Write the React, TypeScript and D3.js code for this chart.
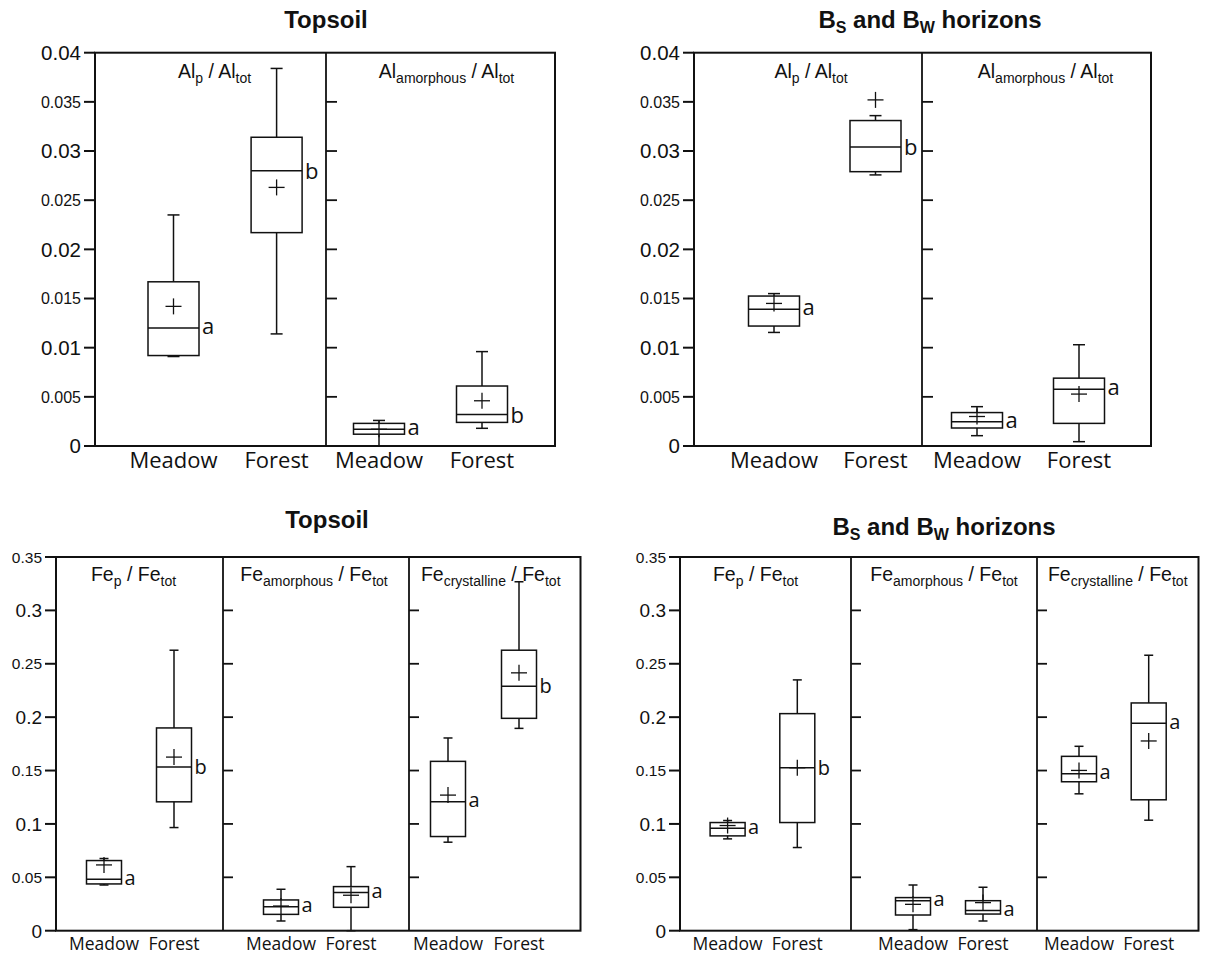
import React from "react";
import * as d3 from "d3";

// ---------- DATA ----------
const categories = ["Meadow", "Forest"];

// each stat: [whiskerLow, q1, median, q3, whiskerHigh, mean]
const alTopsoilP = [
  [0.0091, 0.0092, 0.012, 0.0167, 0.0235, 0.0142],
  [0.0114, 0.0217, 0.028, 0.0314, 0.0384, 0.0263],
];
const alTopsoilAm = [
  [0.0, 0.0012, 0.0017, 0.0023, 0.0026, 0.0017],
  [0.0018, 0.0024, 0.0032, 0.0061, 0.0096, 0.0046],
];
const alTopsoilLetters = [["a", "b"], ["a", "b"]];

const alHorizonP = [
  [0.01155, 0.0122, 0.0139, 0.01525, 0.0155, 0.0145],
  [0.02757, 0.0279, 0.0304, 0.0331, 0.0336, 0.0352],
];
const alHorizonAm = [
  [0.00105, 0.00183, 0.00247, 0.0034, 0.004, 0.003],
  [0.00044, 0.0023, 0.00576, 0.0069, 0.0103, 0.00528],
];
const alHorizonLetters = [["a", "b"], ["a", "a"]];

const feTopsoilP = [
  [0.0428, 0.0438, 0.0482, 0.0657, 0.0676, 0.0616],
  [0.0966, 0.1207, 0.1533, 0.1899, 0.2627, 0.1626],
];
const feTopsoilAm = [
  [0.0091, 0.0153, 0.0225, 0.0288, 0.0388, 0.0231],
  [0.0, 0.0219, 0.0357, 0.0413, 0.06, 0.0332],
];
const feTopsoilCr = [
  [0.0829, 0.0882, 0.1207, 0.1586, 0.1805, 0.127],
  [0.1895, 0.1989, 0.229, 0.2627, 0.3268, 0.2415],
];
const feTopsoilLetters = [["a", "b"], ["a", "a"], ["a", "b"]];

const feHorizonP = [
  [0.086, 0.0888, 0.096, 0.1013, 0.1032, 0.0985],
  [0.0779, 0.1013, 0.1526, 0.2033, 0.2349, 0.1526],
];
const feHorizonAm = [
  [0.001, 0.0147, 0.0281, 0.031, 0.0428, 0.0247],
  [0.0091, 0.0156, 0.019, 0.0281, 0.0407, 0.0263],
];
const feHorizonCr = [
  [0.1282, 0.1395, 0.147, 0.1633, 0.1727, 0.1501],
  [0.1035, 0.1226, 0.1942, 0.2133, 0.258, 0.1777],
];
const feHorizonLetters = [["a", "b"], ["a", "a"], ["a", "a"]];

const alTicks = [0, 0.005, 0.01, 0.015, 0.02, 0.025, 0.03, 0.035, 0.04];
const alTickLabels = ["0", "0.005", "0.01", "0.015", "0.02", "0.025", "0.03", "0.035", "0.04"];
const feTicks = [0, 0.05, 0.1, 0.15, 0.2, 0.25, 0.3, 0.35];
const feTickLabels = ["0", "0.05", "0.1", "0.15", "0.2", "0.25", "0.3", "0.35"];

const alPanelLabels = [
  { el: "Al", sub: "p" },
  { el: "Al", sub: "amorphous" },
];
const fePanelLabels = [
  { el: "Fe", sub: "p" },
  { el: "Fe", sub: "amorphous" },
  { el: "Fe", sub: "crystalline" },
];

// ---------- LAYOUT ----------
const top = {
  y0: 446, y1: 52.7, tickLen: 11, innerTick: 11, boxW: 51, cap: 12,
  catFont: 22, catY: 468, majorFont: 20.5, minorFont: 16, letterFont: 22,
  labelFont: 19.5, subFont: 14, labelY: 78, titleY: 28,
};
const bottom = {
  y0: 930.7, y1: 557, tickLen: 11, innerTick: 10, boxW: 35, cap: 9,
  catFont: 17.5, catY: 950, majorFont: 19, minorFont: 15.5, letterFont: 20,
  labelFont: 19.5, subFont: 14, labelY: 581, titleY: 528,
};

const charts = [
  {
    ...top, title: "topsoil", titleX: 326, xs: [95, 326, 555],
    centers: [[173.5, 276.6], [379, 482]], yMax: 0.04, ticks: alTicks, tickLabels: alTickLabels,
    data: [alTopsoilP, alTopsoilAm], letters: alTopsoilLetters, labels: alPanelLabels, labelShift: [4, 6],
  },
  {
    ...top, title: "horizon", titleX: 930, xs: [694, 922, 1151],
    centers: [[774, 875.5], [977, 1079]], yMax: 0.04, ticks: alTicks, tickLabels: alTickLabels,
    data: [alHorizonP, alHorizonAm], letters: alHorizonLetters, labels: alPanelLabels, labelShift: [3, 9],
  },
  {
    ...bottom, title: "topsoil", titleX: 327, xs: [56, 223, 409, 580.5],
    centers: [[104, 174], [281, 351], [448, 519]], yMax: 0.35, ticks: feTicks, tickLabels: feTickLabels,
    data: [feTopsoilP, feTopsoilAm, feTopsoilCr], letters: feTopsoilLetters, labels: fePanelLabels, labelShift: [-6, -2, -4],
  },
  {
    ...bottom, title: "horizon", titleX: 944, titleY: 535, xs: [680, 851, 1037, 1198.5],
    centers: [[727.6, 797.3], [913, 983], [1079, 1148.7]], yMax: 0.35, ticks: feTicks, tickLabels: feTickLabels,
    data: [feHorizonP, feHorizonAm, feHorizonCr], letters: feHorizonLetters, labels: fePanelLabels, labelShift: [-10, 0, 0],
  },
];

const INK = "#111";
const ARIAL = "'Liberation Sans', Arial, sans-serif";
const HUMAN = "'Open Sans', 'Noto Sans', sans-serif";

function Title({ kind, x, y }: any) {
  if (kind === "topsoil") {
    return (
      <text x={x} y={y} textAnchor="middle" fontFamily={ARIAL} fontWeight="bold" fontSize={24} fill={INK}>
        Topsoil
      </text>
    );
  }
  return (
    <text x={x} y={y} textAnchor="middle" fontFamily={ARIAL} fontWeight="bold" fontSize={24} fill={INK}>
      <tspan>B</tspan>
      <tspan dy={5} fontSize={16}>S</tspan>
      <tspan dy={-5}> and B</tspan>
      <tspan dy={5} fontSize={16}>W</tspan>
      <tspan dy={-5}> horizons</tspan>
    </text>
  );
}

function Chart({ c }: any) {
  const y = d3.scaleLinear().domain([0, c.yMax]).range([c.y0, c.y1]);
  const x0 = c.xs[0];
  const xN = c.xs[c.xs.length - 1];
  const nPanels = c.xs.length - 1;
  return (
    <g>
      <Title kind={c.title} x={c.titleX} y={c.titleY} />
      {/* frame */}
      <rect x={x0} y={y(c.yMax)} width={xN - x0} height={y(0) - y(c.yMax)} fill="none" stroke={INK} strokeWidth={2} />
      {c.xs.slice(1, -1).map((xd: number, i: number) => (
        <g key={"d" + i}>
          <line x1={xd} x2={xd} y1={y(c.yMax)} y2={y(0)} stroke={INK} strokeWidth={1.8} />
          {c.ticks.slice(1, -1).map((t: number, k: number) => (
            <line key={k} x1={xd} x2={xd + c.innerTick} y1={y(t)} y2={y(t)} stroke={INK} strokeWidth={1.8} />
          ))}
        </g>
      ))}
      {/* left axis */}
      {c.ticks.map((t: number, k: number) => (
        <g key={"t" + k}>
          <line x1={x0 - c.tickLen} x2={x0} y1={y(t)} y2={y(t)} stroke={INK} strokeWidth={2} />
          <text
            x={x0 - c.tickLen - 3}
            y={y(t)}
            dy="0.36em"
            textAnchor="end"
            fontFamily={ARIAL}
            fontSize={k % 2 === 0 ? c.majorFont : c.minorFont}
            fill={INK}
          >
            {c.tickLabels[k]}
          </text>
        </g>
      ))}
      {/* panels */}
      {Array.from({ length: nPanels }, (_, i) => {
        const xa = c.xs[i];
        const xb = c.xs[i + 1];
        const sx = d3.scalePoint().domain(categories).range(c.centers[i]);
        const lab = c.labels[i];
        return (
          <g key={"p" + i}>
            <text
              x={(xa + xb) / 2 + c.labelShift[i]}
              y={c.labelY}
              textAnchor="middle"
              fontFamily={ARIAL}
              fontSize={c.labelFont}
              fill={INK}
            >
              <tspan>{lab.el}</tspan>
              <tspan dy={4.5} fontSize={c.subFont}>{lab.sub}</tspan>
              <tspan dy={-4.5}>{" / " + lab.el}</tspan>
              <tspan dy={4.5} fontSize={c.subFont}>tot</tspan>
            </text>
            {categories.map((cat, j) => {
              const cx = sx(cat) as number;
              const [lo, q1, med, q3, hi, mean] = c.data[i][j];
              const hw = c.boxW / 2;
              const letter = c.letters[i][j];
              const ldy = letter === "b" ? 0.365 : 0.27;
              return (
                <g key={cat} stroke={INK} fill="none">
                  <line x1={cx} x2={cx} y1={y(lo)} y2={y(q1)} strokeWidth={1.5} />
                  <line x1={cx} x2={cx} y1={y(q3)} y2={y(hi)} strokeWidth={1.5} />
                  <line x1={cx - c.cap / 2} x2={cx + c.cap / 2} y1={y(lo)} y2={y(lo)} strokeWidth={1.5} />
                  <line x1={cx - c.cap / 2} x2={cx + c.cap / 2} y1={y(hi)} y2={y(hi)} strokeWidth={1.5} />
                  <rect x={cx - hw} y={y(q3)} width={c.boxW} height={y(q1) - y(q3)} strokeWidth={1.5} />
                  <line x1={cx - hw} x2={cx + hw} y1={y(med)} y2={y(med)} strokeWidth={1.5} />
                  <line x1={cx - 8} x2={cx + 8} y1={y(mean)} y2={y(mean)} strokeWidth={1.3} />
                  <line x1={cx} x2={cx} y1={y(mean) - 8} y2={y(mean) + 8} strokeWidth={1.3} />
                  <text
                    x={cx + hw + 3}
                    y={y(med) + ldy * c.letterFont}
                    fontFamily={HUMAN}
                    fontSize={c.letterFont}
                    fill={INK}
                    stroke="none"
                  >
                    {letter}
                  </text>
                  <text
                    x={cx}
                    y={c.catY}
                    textAnchor="middle"
                    fontFamily={HUMAN}
                    fontSize={c.catFont}
                    fill={INK}
                    stroke="none"
                  >
                    {cat}
                  </text>
                </g>
              );
            })}
          </g>
        );
      })}
    </g>
  );
}

export default function App() {
  return (
    <svg
      width={1206}
      height={956}
      viewBox="0 0 1206 956"
      style={{ position: "absolute", left: 0, top: 0, background: "#fff" }}
    >
      <rect x={0} y={0} width={1206} height={956} fill="#fff" />
      {charts.map((c, i) => (
        <Chart key={i} c={c} />
      ))}
    </svg>
  );
}
